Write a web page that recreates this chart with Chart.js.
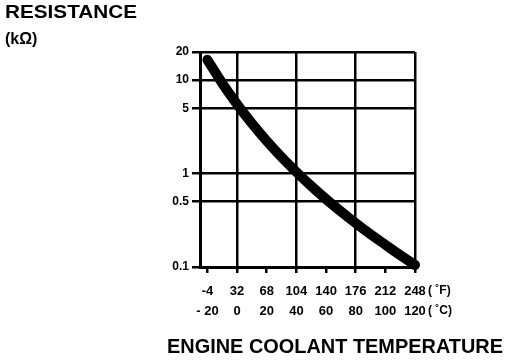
<!DOCTYPE html>
<html>
<head>
<meta charset="utf-8">
<script src="https://cdn.jsdelivr.net/npm/chart.js@4.4.1/dist/chart.umd.min.js"></script>
<style>
  body { margin: 0; background: #fff; }
  canvas { display: block; }
</style>
</head>
<body>
<canvas id="sensorChart" width="528" height="360"></canvas>
<script>
// engine coolant temperature (deg C) vs sensor resistance (kOhm)
var temps = [-20, -10, 0, 10, 20, 30, 40, 50, 60, 70, 80, 90, 100, 110, 120];
var resistance = [16.5, 9.27, 5.52, 3.44, 2.23, 1.50, 1.04, 0.736, 0.533, 0.394, 0.295, 0.224, 0.173, 0.134, 0.105];

var celsiusTicks = [-20, 0, 20, 40, 60, 80, 100, 120];
var celsiusLabels = ["- 20", "0", "20", "40", "60", "80", "100", "120"];
var fahrenheitLabels = ["-4", "32", "68", "104", "140", "176", "212", "248"];
var gridTemps = [0, 40, 80, 120];
var resistanceTicks = [0.1, 0.5, 1, 5, 10, 20];
var resistanceLabels = ["0.1", "0.5", "1", "5", "10", "20"];

var FONT = "'Liberation Sans', Arial, sans-serif";

function fitText(ctx, text, x, y, width) {
    var w = ctx.measureText(text).width;
    ctx.save();
    ctx.translate(x, y);
    ctx.scale(width / w, 1);
    ctx.fillText(text, 0, 0);
    ctx.restore();
}

var textPlugin = {
    id: 'textPlugin',
    afterDraw: function (chart) {
        var ctx = chart.ctx;
        ctx.save();
        ctx.fillStyle = '#000';
        ctx.textBaseline = 'alphabetic';
        ctx.textAlign = 'left';
        ctx.font = 'bold 18px ' + FONT;
        fitText(ctx, 'RESISTANCE', 5, 18, 132);
        ctx.font = 'bold 16px ' + FONT;
        ctx.fillText('(k\u03A9)', 5, 44);
        ctx.font = 'bold 21px ' + FONT;
        fitText(ctx, 'ENGINE COOLANT TEMPERATURE', 167, 353, 336);
        ctx.font = 'bold 12px ' + FONT;
        ctx.fillText('( \u02DAF)', 428, 294);
        ctx.fillText('( \u02DAC)', 428, 314);
        ctx.restore();
    }
};

var ctx = document.getElementById('sensorChart').getContext('2d');
var sensorChart = new Chart(ctx, {
    type: 'line',
    data: {
        datasets: [{
            data: temps.map(function (t, i) { return { x: t, y: resistance[i] }; }),
            borderColor: '#000',
            borderWidth: 10,
            borderCapStyle: 'round',
            pointRadius: 0,
            cubicInterpolationMode: 'monotone',
            clip: false
        }]
    },
    options: {
        responsive: false,
        animation: false,
        devicePixelRatio: 1,
        layout: { padding: { left: 0, top: 52, right: 113, bottom: 0 } },
        plugins: { legend: { display: false }, tooltip: { enabled: false } },
        scales: {
            x: {
                type: 'linear',
                min: -25,
                max: 120,
                afterFit: function (s) { s.height = 93; },
                afterBuildTicks: function (s) {
                    s.ticks = celsiusTicks.map(function (v) { return { value: v }; });
                },
                border: { display: true, color: '#000', width: 3 },
                grid: {
                    lineWidth: 2.5,
                    color: function (c) {
                        return c.tick && gridTemps.indexOf(c.tick.value) >= 0 ? '#000' : 'rgba(0,0,0,0)';
                    },
                    tickColor: '#000',
                    tickLength: 6
                },
                ticks: {
                    color: '#000',
                    padding: 8,
                    maxRotation: 0,
                    autoSkip: false,
                    font: { family: FONT, size: 13, weight: 'bold', lineHeight: 1.55 },
                    callback: function (v) {
                        var i = celsiusTicks.indexOf(v);
                        return [fahrenheitLabels[i], celsiusLabels[i]];
                    }
                }
            },
            y: {
                type: 'logarithmic',
                min: 0.1,
                max: 20,
                afterFit: function (s) { s.width = 200; },
                afterBuildTicks: function (s) {
                    s.ticks = resistanceTicks.map(function (v) { return { value: v }; });
                },
                border: { display: true, color: '#000', width: 3 },
                grid: { lineWidth: 2.5, color: '#000', tickLength: 8 },
                ticks: {
                    color: '#000',
                    padding: 3,
                    autoSkip: false,
                    font: { family: FONT, size: 12, weight: 'bold' },
                    callback: function (v) {
                        return resistanceLabels[resistanceTicks.indexOf(v)];
                    }
                }
            }
        }
    },
    plugins: [textPlugin]
});
</script>
</body>
</html>
